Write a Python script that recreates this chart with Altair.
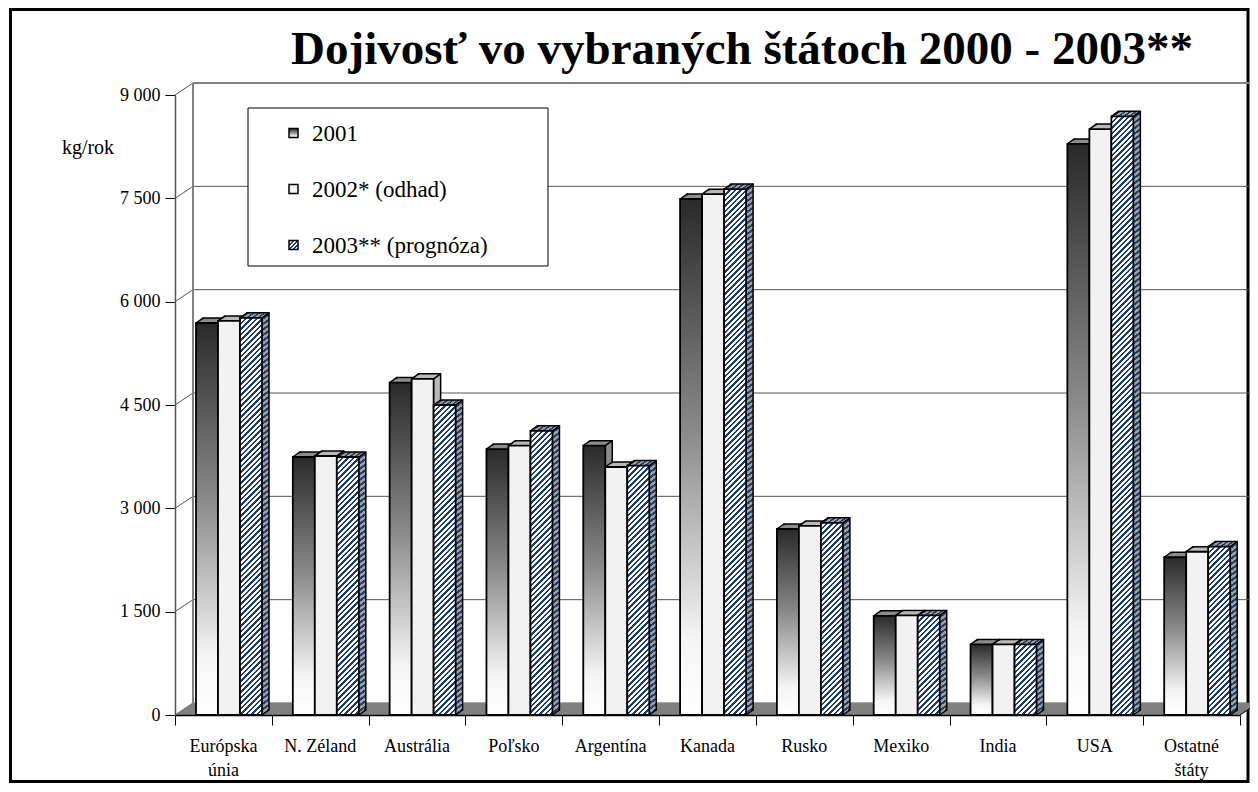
import altair as alt

# ---------------- data ----------------
countries = ["Európska\núnia", "N. Zéland", "Austrália", "Poľsko", "Argentína",
             "Kanada", "Rusko", "Mexiko", "India", "USA", "Ostatné\nštáty"]
series = ["2001", "2002* (odhad)", "2003** (prognóza)"]
v2001 = [5690, 3745, 4825, 3860, 3910, 7490, 2700, 1440, 1025, 8290, 2290]
v2002 = [5720, 3760, 4880, 3910, 3600, 7560, 2745, 1445, 1025, 8505, 2370]
v2003 = [5765, 3745, 4500, 4125, 3620, 7635, 2790, 1445, 1025, 8690, 2445]
yticks = [0, 1500, 3000, 4500, 6000, 7500, 9000]
title_text = "Dojivosť vo vybraných štátoch 2000 - 2003**"
unit_text = "kg/rok"

# ---------------- layout / style ----------------
PW, PH = 1065, 620
YMAX = 9000
NC = len(countries)
PXU = PW / NC
BAR_PX = 22.0
BW = BAR_PX / PXU
G0 = 21.0 / PXU
DX, DY = 7, 5
WX, WY = 18, 12
NAVY = "#1c3d6e"
FONT = "Liberation Serif"


def hatch(h, c_line, c_bg, w=BAR_PX, period=5.5, line=2.4):
    L = w + h + period
    stops = []
    n = int(L / period) + 1
    for i in range(n):
        a = min(i * period / L, 1.0)
        b = min((i * period + line) / L, 1.0)
        c = min((i + 1) * period / L, 1.0)
        stops += [{"offset": round(a, 5), "color": c_line},
                  {"offset": round(b, 5), "color": c_line},
                  {"offset": round(b, 5), "color": c_bg},
                  {"offset": round(c, 5), "color": c_bg}]
    d = w * w + h * h
    return {"gradient": "linear", "x1": 0, "y1": 0,
            "x2": round(w * L / d, 5), "y2": round(h * L / d, 5), "stops": stops}


GRAD2001 = {"gradient": "linear", "x1": 0, "y1": 0, "x2": 0, "y2": 1,
            "stops": [{"offset": 0, "color": "#2a2a2a"},
                      {"offset": 0.45, "color": "#8a8a8a"},
                      {"offset": 0.85, "color": "#f4f4f4"},
                      {"offset": 1, "color": "#ffffff"}]}

xscale = alt.Scale(domain=[0, NC], nice=False, zero=False)
yscale = alt.Scale(domain=[0, YMAX], nice=False, zero=True)
XAX = alt.Axis(values=list(range(NC + 1)), labels=False, tickSize=10,
               tickColor="black", domainColor="black", domainWidth=1.5,
               tickWidth=1, grid=False, title=None, zindex=1)
YAX = alt.Axis(values=yticks, tickSize=10, tickColor="black",
               domainColor="#555555", domainWidth=1.5, grid=False,
               labelFont=FONT, labelFontSize=18, labelColor="black",
               labelPadding=5, title=None, zindex=1,
               labelExpr="replace(format(datum.value, ','), ',', ' ')")


def X(f):
    return alt.X(f, scale=xscale, axis=XAX, title=None)


def Y(f):
    return alt.Y(f, scale=yscale, axis=YAX, title=None)


one = alt.Data(values=[{"k": 0}])

series_vals = [v2001, v2002, v2003]
rows_by_series = []
for si, vals in enumerate(series_vals):
    rows = []
    for ci, (c, v) in enumerate(zip(countries, vals)):
        xs = ci + G0 + si * BW
        r = {"country": c, "series": series[si], "value": v,
             "xs": xs, "xe": xs + BW, "base": 0}
        if si == 2:
            hpx = v / YMAX * PH
            r["hatch"] = hatch(hpx, NAVY, "#ffffff")
            r["hatchb"] = hatch(hpx, NAVY, "#a0a0a0")
        rows.append(r)
    rows_by_series.append(rows)

layers = []

# frame
layers.append(alt.Chart(one).mark_rect(fillOpacity=0, stroke="black", strokeWidth=3).encode(
    x=alt.value(-164.5), x2=alt.value(1073), y=alt.value(-85.5), y2=alt.value(686.5)))

# back wall gridlines
tick_data = alt.Data(values=[{"v": t} for t in yticks])
layers.append(alt.Chart(tick_data).mark_rule(color="#555555", strokeWidth=1, yOffset=-WY).encode(
    y=Y("v:Q"), x=alt.value(WX), x2=alt.value(PW + WX)))
# side wall diagonals
layers.append(alt.Chart(tick_data).mark_rule(color="#555555", strokeWidth=1, y2Offset=-WY).encode(
    y=Y("v:Q"), y2="v:Q", x=alt.value(0), x2=alt.value(WX)))
# wall left edge and top edge
layers.append(alt.Chart(one).mark_rule(color="#808080", strokeWidth=2).encode(
    x=alt.value(WX), y=alt.value(-WY), y2=alt.value(PH - WY)))
layers.append(alt.Chart(one).mark_rule(color="#808080", strokeWidth=2).encode(
    x=alt.value(WX), x2=alt.value(PW + WX), y=alt.value(-WY)))
# floor
floor_path = f"M0,0L{PW},0L{PW + WX},{-WY}L{WX},{-WY}Z"
layers.append(alt.Chart(one).mark_point(shape=floor_path, size=4, filled=True, fill="#808080",
                                        opacity=1, strokeWidth=0).encode(
    x=alt.value(0), y=alt.value(PH)))
# right floor edge
layers.append(alt.Chart(one).mark_rule(color="black", strokeWidth=1).encode(
    x=alt.value(PW), x2=alt.value(PW + WX), y=alt.value(PH), y2=alt.value(PH - WY)))

# legend box
layers.append(alt.Chart(one).mark_rect(fill="white", stroke="black", strokeWidth=1).encode(
    x=alt.value(73), x2=alt.value(373), y=alt.value(13), y2=alt.value(171)))
leg_y = [38, 94, 150]
leg_fill = [GRAD2001, "#f2f2f2", hatch(9, NAVY, "#ffffff", w=9, period=4, line=1.8)]
for i, s in enumerate(series):
    layers.append(alt.Chart(one).mark_rect(fill=leg_fill[i], stroke="black", strokeWidth=1.5).encode(
        x=alt.value(114), x2=alt.value(123), y=alt.value(leg_y[i] - 4.5), y2=alt.value(leg_y[i] + 4.5)))
    layers.append(alt.Chart(one).mark_text(text=s, font=FONT, fontSize=23, align="left",
                                           baseline="middle", color="black").encode(
        x=alt.value(137), y=alt.value(leg_y[i] + 1)))

# bars (3D look)
back_fill = ["#8c8c8c", "#b8b8b8", None]
front_fill = [GRAD2001, "#f2f2f2", None]
for si in range(3):
    d = alt.Data(values=rows_by_series[si])
    base = alt.Chart(d)
    enc = dict(x=X("xs:Q"), x2="xe:Q", y=Y("value:Q"), y2="base:Q")
    # extrusion (back first)
    for k in [4, 3, 2, 1]:
        ox, oy = DX * k / 4, -DY * k / 4
        props = dict(xOffset=ox, x2Offset=ox, yOffset=oy, y2Offset=oy)
        if k == 4:
            props.update(stroke="black", strokeWidth=1.5)
        else:
            props.update(strokeWidth=0)
        if back_fill[si] is not None:
            m = base.mark_rect(fill=back_fill[si], **props).encode(**enc)
        else:
            m = base.mark_rect(**props).encode(fill=alt.Fill("hatchb:N", scale=None, legend=None), **enc)
        layers.append(m)
    # diagonal edges
    for xf, yf in [("xs", "value"), ("xe", "value"), ("xe", "base")]:
        layers.append(base.mark_rule(color="black", strokeWidth=1.5, x2Offset=DX, y2Offset=-DY).encode(
            x=X(f"{xf}:Q"), x2=f"{xf}:Q", y=Y(f"{yf}:Q"), y2=f"{yf}:Q"))
    # front face
    if front_fill[si] is not None:
        layers.append(base.mark_rect(fill=front_fill[si], stroke="black", strokeWidth=1.8).encode(**enc))
    else:
        layers.append(base.mark_rect(stroke="black", strokeWidth=1.8).encode(
            fill=alt.Fill("hatch:N", scale=None, legend=None), **enc))

# category labels
lab = alt.Data(values=[{"label": c, "xc": i + 0.5} for i, c in enumerate(countries)])
layers.append(alt.Chart(lab).mark_text(font=FONT, fontSize=18, baseline="top", align="center",
                                       lineBreak="\n", lineHeight=24, color="black").encode(
    x=X("xc:Q"), y=alt.value(643), text="label:N"))

# unit label & title
layers.append(alt.Chart(one).mark_text(text=unit_text, font=FONT, fontSize=20, align="center",
                                       baseline="middle", color="black").encode(
    x=alt.value(-87), y=alt.value(53)))
layers.append(alt.Chart(one).mark_text(text=title_text, font=FONT, fontSize=47, fontWeight="bold",
                                       align="center", baseline="alphabetic", color="black").encode(
    x=alt.value(567), y=alt.value(-31)))

chart = alt.layer(*layers).properties(
    width=PW, height=PH,
    autosize=alt.AutoSizeParams(type="none"),
    padding={"left": 167, "top": 87, "right": 10, "bottom": 69},
    background="white",
).configure_view(stroke=None)

chart.save("out.html", embed_options={"renderer": "svg", "actions": False})
